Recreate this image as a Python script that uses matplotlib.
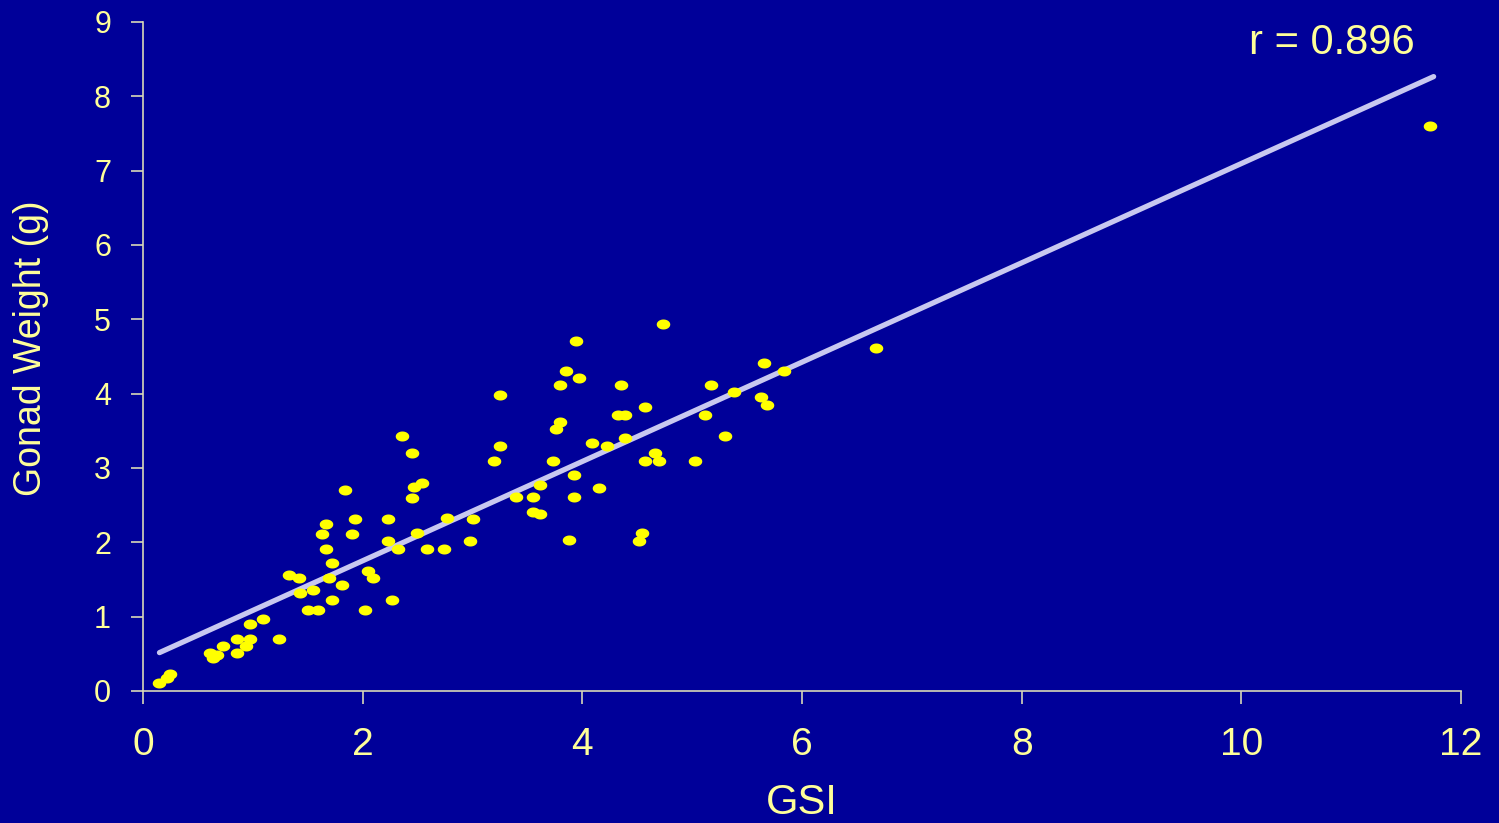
import numpy as np
import matplotlib
matplotlib.use("Agg")
import matplotlib.pyplot as plt
from matplotlib.path import Path

# GSI vs gonad weight
gsi = [0.15, 0.22, 0.25, 0.61, 0.64, 0.67, 0.73, 0.86, 0.86, 0.97,
       0.94, 0.97, 1.09, 1.24, 1.33, 1.42, 1.43, 1.55, 1.50, 1.59,
       1.72, 1.72, 1.69, 1.67, 1.81, 2.05, 2.09, 2.02, 2.27, 1.67,
       1.63, 1.84, 1.93, 1.90, 2.23, 2.23, 2.32, 2.49, 2.36, 2.45,
       2.54, 2.47, 2.45, 2.77, 2.59, 2.74, 3.00, 2.98, 3.25, 3.25,
       3.20, 3.55, 3.40, 3.61, 3.55, 3.61, 3.73, 3.80, 3.76, 3.80,
       3.85, 3.97, 3.94, 3.92, 3.92, 3.88, 4.09, 4.22, 4.15, 4.35,
       4.32, 4.39, 4.39, 4.57, 4.54, 4.52, 4.66, 4.57, 4.70, 4.73,
       5.03, 5.12, 5.17, 5.30, 5.38, 5.63, 5.68, 5.65, 5.84, 6.67,
       11.72]
gonad_wt = [0.11, 0.17, 0.23, 0.51, 0.44, 0.48, 0.61, 0.51, 0.70, 0.70,
            0.61, 0.90, 0.97, 0.70, 1.56, 1.52, 1.32, 1.36, 1.09, 1.09,
            1.22, 1.72, 1.52, 1.91, 1.43, 1.61, 1.52, 1.09, 1.22, 2.25,
            2.11, 2.70, 2.31, 2.11, 2.31, 2.02, 1.91, 2.13, 3.43, 3.20,
            2.80, 2.74, 2.60, 2.33, 1.91, 1.91, 2.31, 2.02, 3.98, 3.30,
            3.09, 2.61, 2.61, 2.77, 2.41, 2.38, 3.09, 3.62, 3.52, 4.12,
            4.30, 4.21, 4.71, 2.91, 2.61, 2.03, 3.34, 3.30, 2.73, 4.12,
            3.71, 3.71, 3.40, 3.82, 2.13, 2.02, 3.20, 3.09, 3.09, 4.94,
            3.09, 3.71, 4.12, 3.43, 4.02, 3.96, 3.85, 4.41, 4.30, 4.61,
            7.60]

# trend line as drawn (slope, intercept, x range)
trend_coef = [0.668, 0.416]
trend_x = [0.15, 11.75]
r_text = "r = 0.896"

x_ticks = [0, 2, 4, 6, 8, 10, 12]
y_ticks = [0, 1, 2, 3, 4, 5, 6, 7, 8, 9]

bg = "#000099"
txt = "#FFFF99"
axis_col = "#D8D8B8"

plt.rcParams['font.family'] = ['Liberation Sans', 'DejaVu Sans']

fig = plt.figure(figsize=(14.99, 8.23), dpi=100, facecolor=bg)
ax = fig.add_axes([0.0954, 0.1604, 0.8793, 0.8129], facecolor=bg)

# ellipse marker, a bit wider than tall
t = np.linspace(0, 2 * np.pi, 60)
ell = Path(np.column_stack([np.cos(t), 0.74 * np.sin(t)]), closed=True)

tx = np.array(trend_x)
ax.plot(tx, np.polyval(trend_coef, tx), color="#C8C8F0", lw=3.8,
        solid_capstyle="round", zorder=2)
ax.scatter(gsi, gonad_wt, s=95, marker=ell, color="#FFFF00",
           linewidths=0, zorder=3)

ax.set_xlim(0, 12)
ax.set_ylim(0, 9)
ax.set_xticks(x_ticks)
ax.set_yticks(y_ticks)

for side in ["top", "right"]:
    ax.spines[side].set_visible(False)
for side in ["left", "bottom"]:
    ax.spines[side].set_color(axis_col)
    ax.spines[side].set_linewidth(1.2)

ax.tick_params(axis="x", colors=axis_col, labelcolor=txt, length=9,
               width=1.2, pad=17, labelsize=28)
ax.tick_params(axis="y", colors=axis_col, labelcolor=txt, length=9,
               width=1.2, pad=14, labelsize=22)

ax.set_xlabel("GSI", color=txt, fontsize=30, labelpad=14)
fig.text(0.021, 0.577, "Gonad Weight (g)", color=txt, fontsize=27,
         rotation=90, ha="center", va="center")

ax.text(0.965, 0.998, r_text, transform=ax.transAxes, color=txt,
        fontsize=30, ha="right", va="top")

fig.savefig("out.png", dpi=100, facecolor=bg)
